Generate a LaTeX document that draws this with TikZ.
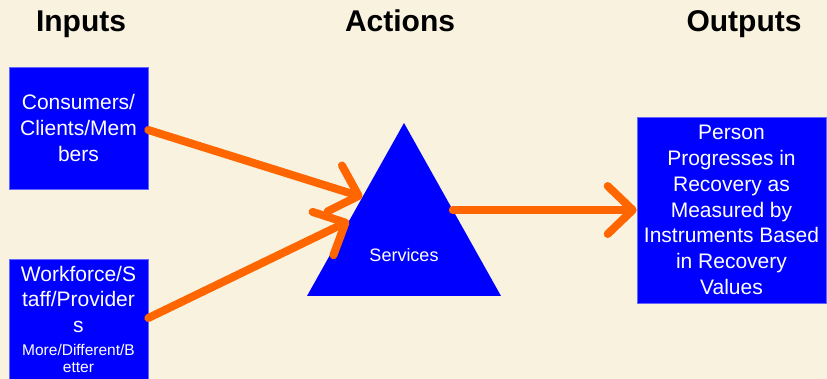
\documentclass[tikz,border=0pt]{standalone}
\usepackage{fontspec}
\setmainfont{Liberation Sans}
\usetikzlibrary{arrows.meta,calc}
\definecolor{bg}{RGB}{248,242,222}
\definecolor{boxblue}{RGB}{0,0,255}
\definecolor{arrorange}{RGB}{255,102,0}
\tikzset{
  bluebox/.style={draw=boxblue!60!white, line width=0.6pt, fill=boxblue, text=white, align=center, inner sep=0pt},
  title/.style={font=\fontsize{30}{34}\selectfont\bfseries, anchor=base},
  bigarrow/.style={draw=arrorange, line width=8pt, line cap=round,
    -{Straight Barb[round, length=25pt, width=48pt, line width=8pt]}},
  boxtext/.style={font=\fontsize{21}{25.8}\selectfont},
}
\begin{document}
\begin{tikzpicture}[x=1pt,y=-1pt]
\useasboundingbox[fill=bg] (0,0) rectangle (827,379);
% titles
\node[title] (tin) at (81,32) {Inputs};
\node[title] (tact) at (400,32) {Actions};
\node[title] (tout) at (744,32) {Outputs};
% input boxes
\node[bluebox, minimum width=139pt, minimum height=122pt, boxtext] (b1) at (78.5,128)
  {\raisebox{-3pt}{\parbox{139pt}{\centering Consumers/\\Clients/Mem\\bers}}};
\node[bluebox, minimum width=139pt, minimum height=140pt, anchor=north] (b2) at (78.5,259) {};
\node[text=white, anchor=north, inner sep=0pt] (b2t) at (78.5,266)
  {\parbox{139pt}{\centering\fontsize{21}{25.5}\selectfont Workforce/S\\taff/Provider\\s\par
   \vspace{7pt}\fontsize{15.5}{16.5}\selectfont More/Different/B\\etter\par}};
% triangle
\coordinate (tA) at (404,123);
\coordinate (tL) at (307,296);
\coordinate (tR) at (501,296);
\fill[boxblue] (tA) -- (tL) -- (tR) -- cycle;
\node[text=white, font=\fontsize{18}{20}\selectfont] (serv) at (404,255) {Services};
\coordinate (in1) at ($(tA)!0.428!(tL)$);
\coordinate (in2) at ($(tA)!0.566!(tL)$);
\coordinate (outp) at ($(tA)!0.503!(tR)$);
% output box
\node[bluebox, minimum width=189pt, minimum height=186pt, boxtext] (b3) at (731.5,210)
  {\raisebox{-3pt}{\parbox{189pt}{\centering Person\\Progresses in\\Recovery as\\Measured by\\Instruments Based\\in Recovery\\Values}}};
% arrows
\draw[bigarrow] (b1.east |- 0,130) -- (in1);
\draw[bigarrow] (b2.east |- 0,318) -- (in2);
\draw[bigarrow] (outp) -- (b3.west |- outp);
\end{tikzpicture}
\end{document}
